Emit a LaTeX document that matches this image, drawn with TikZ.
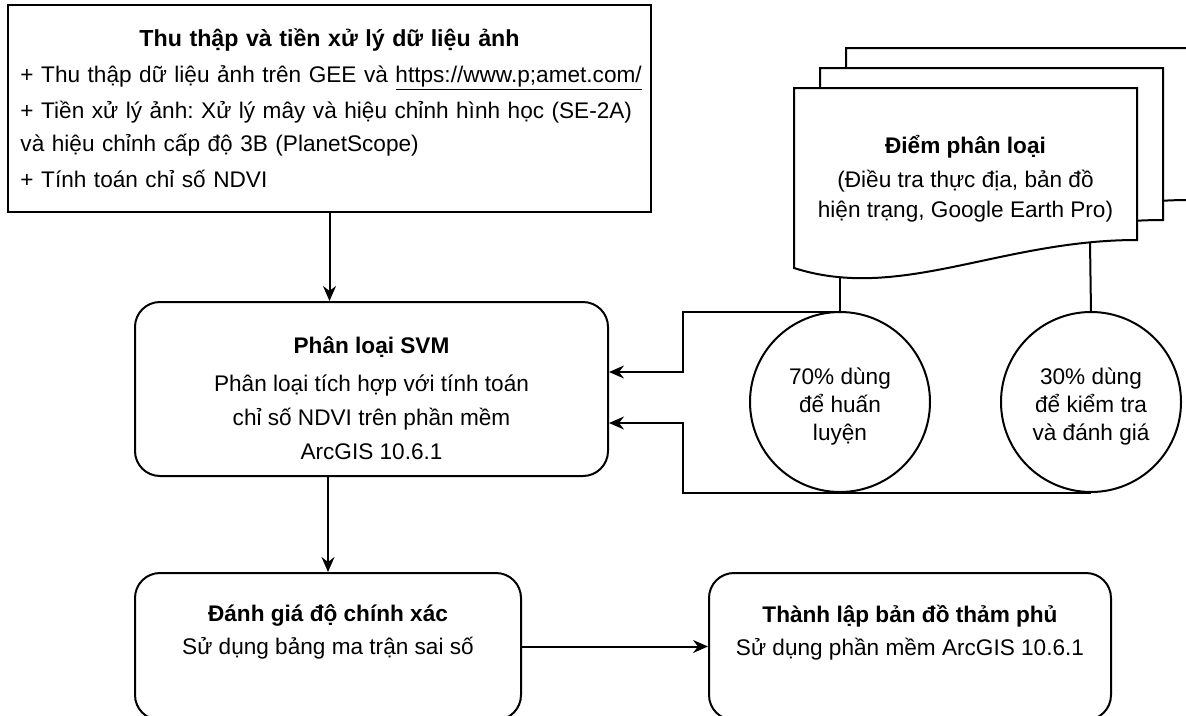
\documentclass[tikz,border=0pt]{standalone}
\usepackage{fontspec}
\setmainfont{Liberation Sans}
\usetikzlibrary{arrows.meta, positioning, calc}
\tikzset{
	boxtext/.style={font=\fontsize{22.6}{33}\selectfont},
	plainbox/.style={rectangle, draw=black, line width=2pt, fill=white, boxtext},
	roundbox/.style={rectangle, rounded corners=25pt, draw=black, line width=2pt, fill=white, align=center, boxtext},
	splitcirc/.style={circle, draw=black, line width=2pt, minimum size=180pt, inner sep=0pt},
	circtext/.style={align=center, font=\fontsize{22.6}{28}\selectfont},
	docsheet/.style={draw=black, fill=white, line width=2pt},
	flowarrow/.style={-{Stealth[length=15pt, width=13pt, inset=5pt]}, line width=2pt},
	link/.style={line width=2pt},
}

\begin{document}
\frenchspacing
\begin{tikzpicture}[x=1pt, y=-1pt]
	\useasboundingbox (0,0) rectangle (1186,715);
	% stacked sheets of the sample points
	\foreach \k in {2,1,0} {
		\begin{scope}[shift={(\k*26,-\k*20)}]
			\path[docsheet] (794,88) -- (1137,88) -- (1137,240) .. controls (1000,240) and (900,302) .. (794,268) -- cycle;
		\end{scope}
	}
	\node[align=center, font=\fontsize{22.6}{30}\selectfont] (points) at (965.5,179) {\textbf{Điểm phân loại}\\[4pt] (Điều tra thực địa, bản đồ\\ hiện trạng, Google Earth Pro)};
	\coordinate (docA) at (840,277);
	\coordinate (docB) at (1090,242);

	\node[plainbox, minimum width=643pt, minimum height=207pt, inner sep=0pt, text width=636pt, align=left] (collect) at (329.5,108.5) {\setlength{\parskip}{3pt}\raggedright\leftskip=9pt{\centering\fontsize{23.2}{33}\selectfont\bfseries Thu thập và tiền xử lý dữ liệu ảnh\par}
		+ Thu thập dữ liệu ảnh trên GEE và \underline{https://www.p;amet.com/}\par
		+ Tiền xử lý ảnh: Xử lý mây và hiệu chỉnh hình học (SE-2A)\\và hiệu chỉnh cấp độ 3B (PlanetScope)\par
		+ Tính toán chỉ số NDVI\par};
	\node[roundbox, minimum width=473pt, minimum height=174pt] (svm) at (371.5,389) {};
	\node[align=center, font=\fontsize{22.6}{34}\selectfont] (svmtext) at ([yshift=-9pt]svm.center) {\textbf{Phân loại SVM}\\[4pt] Phân loại tích hợp với tính toán\\ chỉ số NDVI trên phần mềm\\ ArcGIS 10.6.1};
	\node[roundbox, minimum width=386pt, minimum height=147pt] (eval) at (328,646.5) {\textbf{Đánh giá độ chính xác}\\ Sử dụng bảng ma trận sai số\\ \mbox{}};
	\node[roundbox, minimum width=402pt, minimum height=147pt] (map) at (910,646.5) {\textbf{Thành lập bản đồ thảm phủ}\\ Sử dụng phần mềm ArcGIS 10.6.1\\ \mbox{}};

	\coordinate (trainbend) at (683,372);
	\coordinate (testbend) at (683,423);
	\draw[link] (docA) -- (840,312);
	\draw[link] (docB) -- (1091,312);
	\draw[flowarrow] (840,312) -| (trainbend) |- (trainbend -| svm.east);
	\draw[flowarrow] (1091,493) -| (testbend) |- (testbend -| svm.east);
	\node[splitcirc] (train) at (840,402) {};
	\node[splitcirc] (test) at (1091,402) {};
	\node[circtext] (traintext) at ([yshift=-5pt]train.center) {70\% dùng\\ để huấn\\ luyện};
	\node[circtext] (testtext) at ([yshift=-5pt]test.center) {30\% dùng\\ để kiểm tra\\ và đánh giá};

	\draw[flowarrow] (collect.south) -- (collect.south |- svm.north);
	\draw[flowarrow] (eval.north |- svm.south) -- (eval.north);
	\draw[flowarrow] (eval.east) -- (map.west);
\end{tikzpicture}
\end{document}
